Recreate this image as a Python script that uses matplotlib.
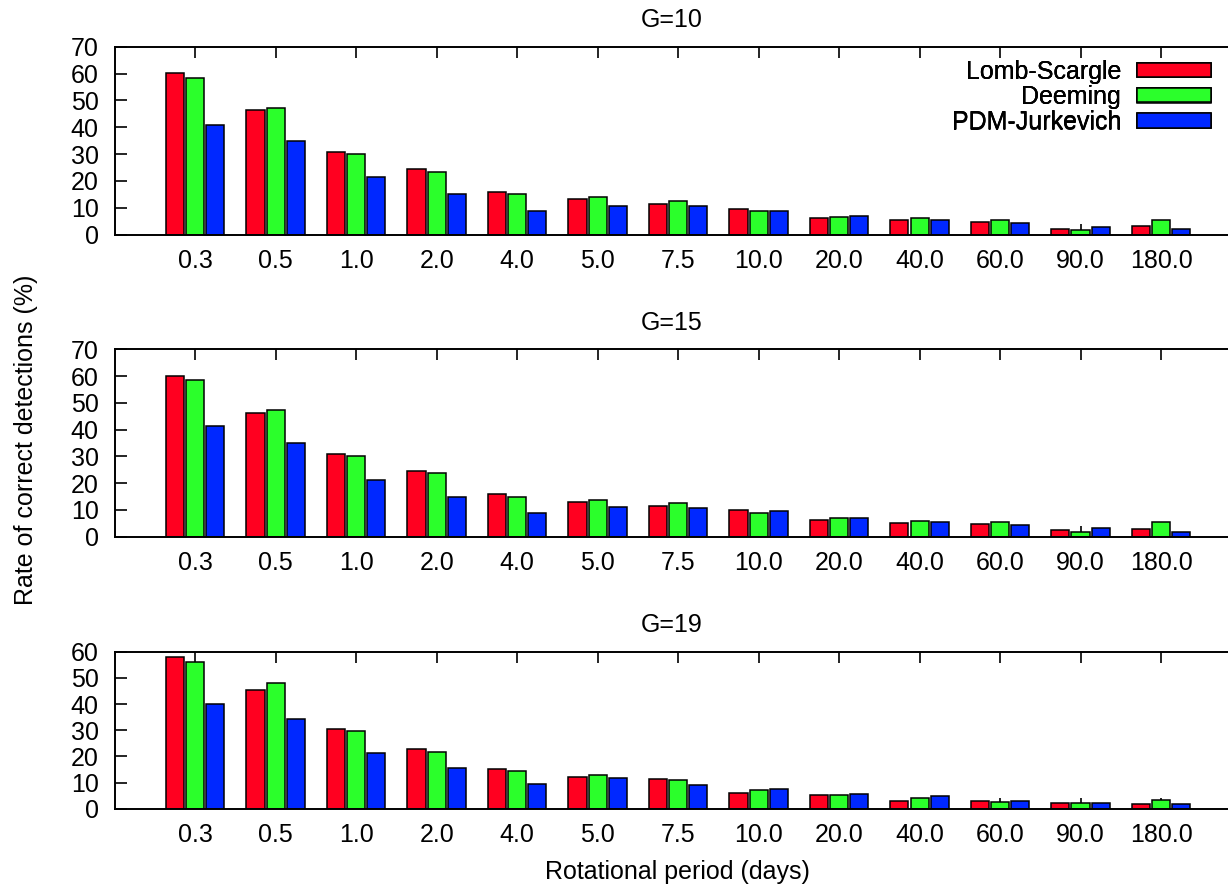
import matplotlib
matplotlib.use("Agg")
import matplotlib.pyplot as plt
import numpy as np
from matplotlib.patches import Patch

plt.rcParams['font.family'] = ['Liberation Sans', 'DejaVu Sans']

periods = ["0.3", "0.5", "1.0", "2.0", "4.0", "5.0", "7.5", "10.0", "20.0", "40.0", "60.0", "90.0", "180.0"]
methods = ["Lomb-Scargle", "Deeming", "PDM-Jurkevich"]
colors = ["#ff0020", "#2bff2b", "#0028ff"]
titles = ["G=10", "G=15", "G=19"]

g10_lomb = [60.1, 46.5, 30.9, 24.6, 15.8, 13.4, 11.4, 9.4, 6.3, 5.3, 4.8, 2.2, 3.2]
g10_deem = [58.3, 47.1, 30.1, 23.4, 15.1, 14.0, 12.4, 8.8, 6.7, 6.2, 5.3, 1.7, 5.3]
g10_pdm = [41.0, 34.9, 21.4, 15.1, 9.0, 10.8, 10.8, 9.0, 6.8, 5.6, 4.3, 2.8, 2.0]

g15_lomb = [60.1, 46.3, 30.9, 24.4, 16.1, 13.1, 11.3, 10.0, 6.2, 5.2, 4.9, 2.5, 3.0]
g15_deem = [58.5, 47.3, 30.3, 23.7, 14.8, 13.8, 12.5, 9.0, 6.9, 6.0, 5.5, 1.9, 5.4]
g15_pdm = [41.2, 34.9, 21.1, 14.9, 8.7, 11.0, 10.7, 9.6, 7.0, 5.6, 4.2, 3.1, 1.9]

g19_lomb = [57.8, 45.5, 30.6, 22.9, 15.3, 12.2, 11.2, 6.1, 5.2, 2.9, 3.1, 2.3, 1.8]
g19_deem = [55.9, 48.2, 29.7, 21.8, 14.5, 12.7, 10.8, 7.3, 5.2, 4.0, 2.7, 2.0, 3.3]
g19_pdm = [40.0, 34.3, 21.2, 15.4, 9.4, 11.9, 9.2, 7.6, 5.7, 4.9, 3.1, 2.3, 1.7]

panels = [
    [g10_lomb, g10_deem, g10_pdm],
    [g15_lomb, g15_deem, g15_pdm],
    [g19_lomb, g19_deem, g19_pdm],
]
ymaxes = [70, 70, 60]

W, H = 1228, 888
fig = plt.figure(figsize=(W / 100, H / 100), dpi=100)

# pixel geometry: (top, bottom)
rows = [(46.7, 234.7), (349.3, 536.7), (651.7, 808.7)]
title_y = [20, 323, 625]
left_px, right_px = 114.7, 1228

x = np.arange(len(periods))
fs = 18
for i, (series, ymax, (tp, bp)) in enumerate(zip(panels, ymaxes, rows)):
    ax = fig.add_axes([left_px / W, 1 - bp / H, (right_px - left_px) / W, (bp - tp) / H])
    ax.set_axisbelow(True)
    for j, vals in enumerate(series):
        ax.bar(x + (j - 1) * 0.25, vals, width=0.225, color=colors[j],
               edgecolor='black', linewidth=1.1, zorder=2)
    ax.set_xlim(-1, 12 + (right_px - 1161) / 80.5)
    ax.set_ylim(0, ymax)
    ax.set_yticks(np.arange(0, ymax + 1, 10))
    ax.set_xticks(x)
    ax.set_xticklabels(periods)
    ax.tick_params(axis='x', direction='in', top=True, bottom=True, length=7.7,
                   width=1.2, labelsize=fs, pad=10.5)
    ax.tick_params(axis='y', direction='in', left=True, right=False, length=8.6,
                   width=1.2, labelsize=fs, pad=11.5)
    ax.spines['right'].set_visible(False)
    for s in ['left', 'top', 'bottom']:
        ax.spines[s].set_linewidth(1.4)
    ax.text(0.5, 1 + (tp - title_y[i]) / (bp - tp), titles[i], transform=ax.transAxes,
            ha='center', va='center', fontsize=fs)
    handles = [Patch(facecolor=c, edgecolor='black', linewidth=1.1) for c in colors]
    leg = ax.legend(handles, methods, loc='upper right', markerfirst=False, frameon=False,
                    bbox_to_anchor=((1211 - left_px) / (right_px - left_px),
                                    1 - (60 - tp) / (bp - tp)),
                    borderaxespad=0, borderpad=0, fontsize=fs, handlelength=2.95,
                    handleheight=0.5, handletextpad=0.65, labelspacing=0.05)

fig.text(26 / W, 1 - 440 / H, "Rate of correct detections (%)", rotation=90,
         ha='center', va='center', fontsize=fs)
fig.text(677 / W, 1 - 872 / H, "Rotational period (days)", ha='center', va='center', fontsize=fs)

fig.savefig("out.png", dpi=100)
